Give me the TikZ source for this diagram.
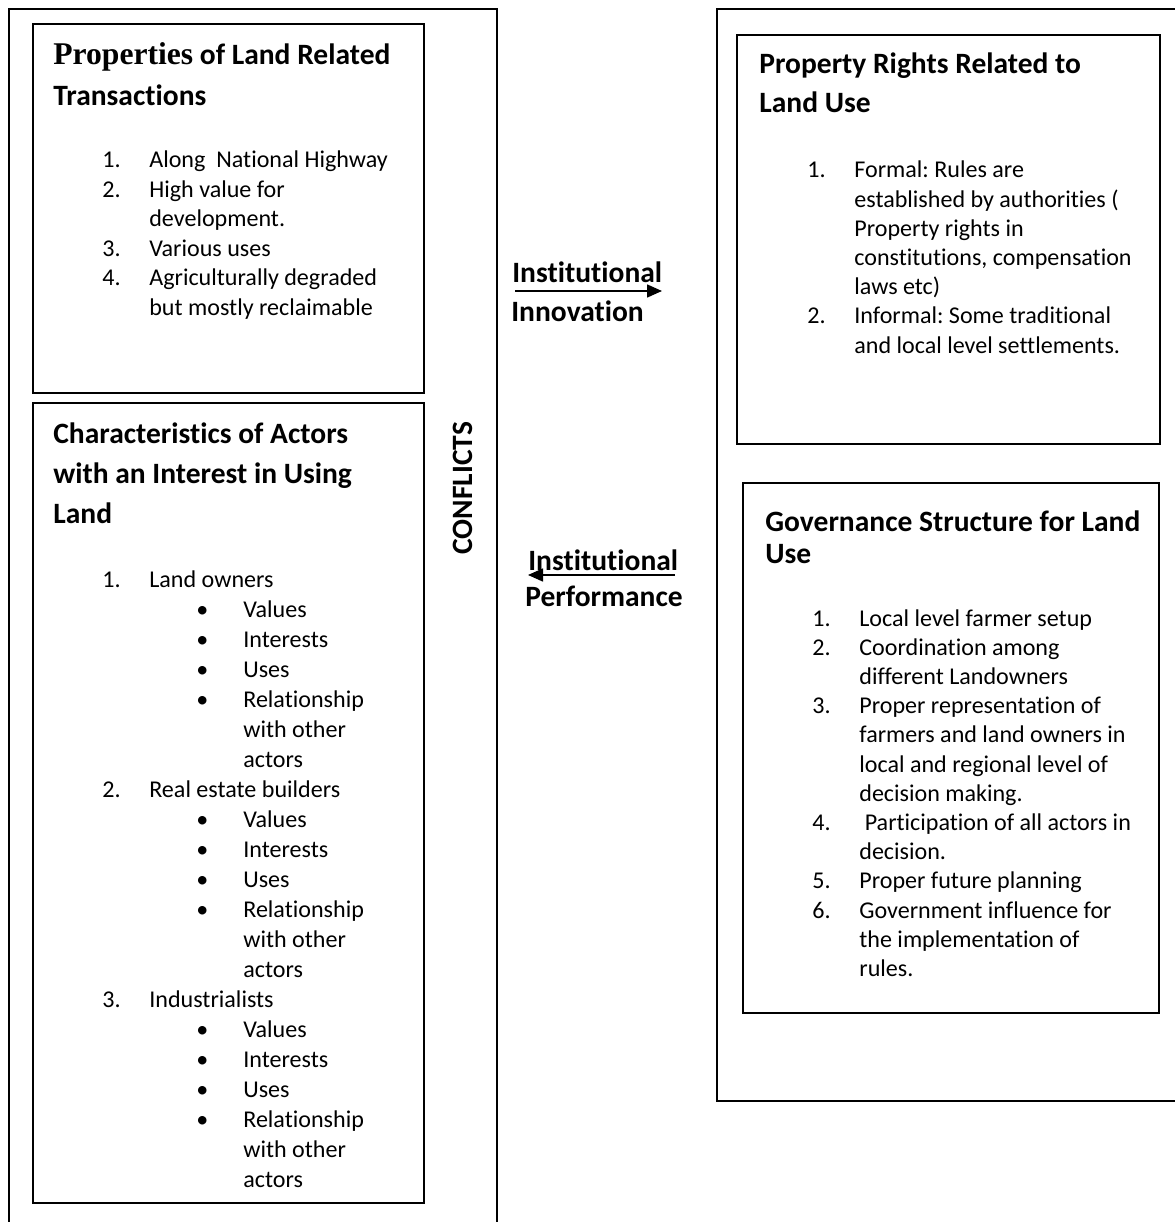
\documentclass[tikz,border=0pt]{standalone}
\usepackage{fontspec}
\setmainfont{Carlito}[Ligatures=NoCommon]
\newfontfamily\serifhead{Liberation Serif}
\usetikzlibrary{arrows.meta}
\frenchspacing

% one pixel of the layout grid
\newlength\px
\setlength\px{0.02cm}
% list lines: numbered, wrapped, bulleted, wrapped bullet
\newcommand\numln[2]{\makebox[47\px][l]{#1}#2}
\newcommand\wrapln[1]{\hspace*{47\px}#1}
\newcommand\bulln[1]{\hspace*{94\px}\makebox[47\px][l]{\textbullet}#1}
\newcommand\bulwrap[1]{\hspace*{141\px}#1}

\begin{document}
\begin{tikzpicture}[x=0.02cm, y=-0.02cm,
    frame/.style={line width=1.1pt},
    panel/.style={line width=1.4pt},
    headtext/.style={anchor=base west, inner sep=0pt, font=\bfseries\fontsize{16.8}{#1\px}\selectfont},
    headtext/.default=40,
    listtext/.style={anchor=base west, inner sep=0pt, font=\fontsize{13.7}{#1\px}\selectfont},
    listtext/.default=29.5,
    flow/.style={line width=0.9pt, -{Triangle[length=0.3cm, width=0.26cm]}}]
    \useasboundingbox (0,0) rectangle (1174,1222);

    % Outer frames
    \draw[frame] (9,1230) -- (9,9) -- (497,9) -- (497,1230);
    \draw[frame] (1180,9) -- (717,9) -- (717,1101) -- (1180,1101);

    % Left column boxes
    \draw[panel] (33,24) rectangle (424,393);
    \draw[panel] (33,403) rectangle (424,1203);

    % Right column boxes
    \draw[panel] (737,35) rectangle (1160,444);
    \draw[panel] (743,483) rectangle (1159,1013);

    % Properties of land related transactions
    \node[headtext=41] (propsTitle) at (53,65) {\begin{tabular}[t]{@{}l@{}}{\serifhead\fontsize{18}{41\px}\selectfont Properties} of Land Related\\ Transactions\end{tabular}};
    \node[listtext] (propsList) at (102,168) {\begin{tabular}[t]{@{}l@{}}
        \numln{1.}{Along\ \ National Highway}\\
        \numln{2.}{High value for}\\
        \wrapln{development.}\\
        \numln{3.}{Various uses}\\
        \numln{4.}{Agriculturally degraded}\\
        \wrapln{but mostly reclaimable}
    \end{tabular}};

    % Characteristics of actors
    \node[headtext=40] (actorsTitle) at (53,443) {\begin{tabular}[t]{@{}l@{}}Characteristics of Actors\\ with an Interest in Using\\ Land\end{tabular}};
    \node[listtext=30] (actorsList) at (102,587) {\begin{tabular}[t]{@{}l@{}}
        \numln{1.}{Land owners}\\
        \bulln{Values}\\
        \bulln{Interests}\\
        \bulln{Uses}\\
        \bulln{Relationship}\\
        \bulwrap{with other}\\
        \bulwrap{actors}\\
        \numln{2.}{Real estate builders}\\
        \bulln{Values}\\
        \bulln{Interests}\\
        \bulln{Uses}\\
        \bulln{Relationship}\\
        \bulwrap{with other}\\
        \bulwrap{actors}\\
        \numln{3.}{Industrialists}\\
        \bulln{Values}\\
        \bulln{Interests}\\
        \bulln{Uses}\\
        \bulln{Relationship}\\
        \bulwrap{with other}\\
        \bulwrap{actors}
    \end{tabular}};

    \node[headtext, rotate=90] (conflicts) at (472,555) {CONFLICTS};

    % Institutional arrows
    \node[headtext] (innovTop) at (512,283) {Institutional};
    \node[headtext] (innovBot) at (511,322) {Innovation};
    \coordinate (innovS) at (515,291);
    \coordinate (innovE) at (662,291);
    \draw[flow] (innovS) -- (innovE);

    \node[headtext] (perfTop) at (528,570) {Institutional};
    \node[headtext] (perfBot) at (525,606) {Performance};
    \coordinate (perfS) at (675,575);
    \coordinate (perfE) at (528,575);
    \draw[flow] (perfS) -- (perfE);

    % Property rights
    \node[headtext=39] (rightsTitle) at (759,74) {\begin{tabular}[t]{@{}l@{}}Property Rights Related to\\ Land Use\end{tabular}};
    \node[listtext=29.2] (rightsList) at (807,178) {\begin{tabular}[t]{@{}l@{}}
        \numln{1.}{Formal: Rules are}\\
        \wrapln{established by authorities (}\\
        \wrapln{Property rights in}\\
        \wrapln{constitutions, compensation}\\
        \wrapln{laws etc)}\\
        \numln{2.}{Informal: Some traditional}\\
        \wrapln{and local level settlements.}
    \end{tabular}};

    % Governance structure
    \node[headtext=32] (govTitle) at (765,531) {\begin{tabular}[t]{@{}l@{}}Governance Structure for Land\\ Use\end{tabular}};
    \node[listtext=29.2] (govList) at (812,626) {\begin{tabular}[t]{@{}l@{}}
        \numln{1.}{Local level farmer setup}\\
        \numln{2.}{Coordination among}\\
        \wrapln{different Landowners}\\
        \numln{3.}{Proper representation of}\\
        \wrapln{farmers and land owners in}\\
        \wrapln{local and regional level of}\\
        \wrapln{decision making.}\\
        \numln{4.}{\ Participation of all actors in}\\
        \wrapln{decision.}\\
        \numln{5.}{Proper future planning}\\
        \numln{6.}{Government influence for}\\
        \wrapln{the implementation of}\\
        \wrapln{rules.}
    \end{tabular}};
\end{tikzpicture}
\end{document}
